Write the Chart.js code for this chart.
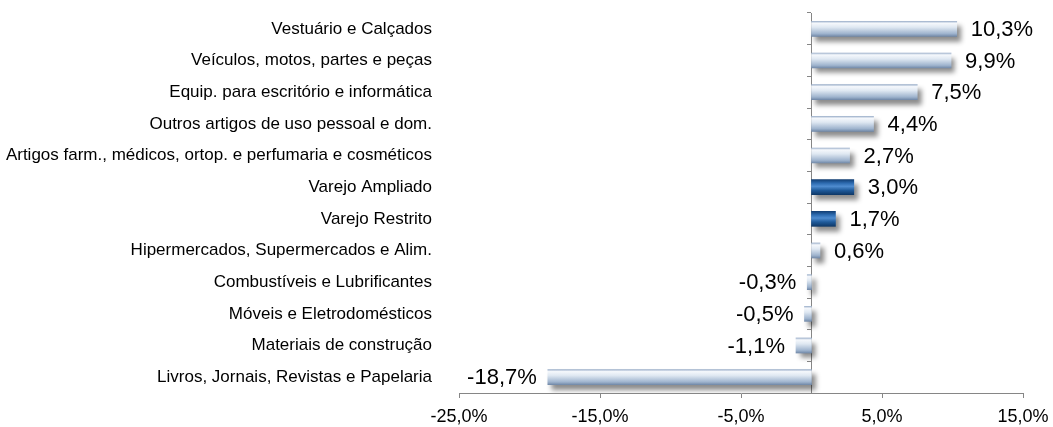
<!DOCTYPE html>
<html>
<head>
<meta charset="utf-8">
<script src="https://cdn.jsdelivr.net/npm/chart.js@4"></script>
<style>
  html, body { margin: 0; padding: 0; background: #fff; overflow: hidden; }
  #wrap { width: 1053px; height: 427px; }
</style>
</head>
<body>
<div id="wrap"><canvas id="chart-area"></canvas></div>
<script>
var categories = [
  'Vestuário e Calçados',
  'Veículos, motos, partes e peças',
  'Equip. para escritório e informática',
  'Outros artigos de uso pessoal e dom.',
  'Artigos farm., médicos, ortop. e perfumaria e cosméticos',
  'Varejo Ampliado',
  'Varejo Restrito',
  'Hipermercados, Supermercados e Alim.',
  'Combustíveis e Lubrificantes',
  'Móveis e Eletrodomésticos',
  'Materiais de construção',
  'Livros, Jornais, Revistas e Papelaria'
];
var values = [10.3, 9.9, 7.5, 4.4, 2.7, 3.0, 1.7, 0.6, -0.3, -0.5, -1.1, -18.7];
var highlighted = ['Varejo Ampliado', 'Varejo Restrito'];
var xTicks = [-25, -15, -5, 5, 15];

var FONT = "'Liberation Sans', Arial, sans-serif";

function pct(v) {
  return v.toFixed(1).replace('.', ',') + '%';
}

// vertical gradient per bar, built from the category scale position
function barFill(context) {
  var chart = context.chart;
  var dark = highlighted.indexOf(categories[context.dataIndex]) >= 0;
  var yScale = chart.scales.y;
  var yc = yScale ? yScale.getPixelForValue(context.dataIndex) : NaN;
  if (!isFinite(yc)) return dark ? '#1f5a9a' : '#b9c9de';
  var h = 8;
  var g = chart.ctx.createLinearGradient(0, yc - h, 0, yc + h);
  if (dark) {
    g.addColorStop(0, '#0f3a6e');
    g.addColorStop(0.25, '#2d6bb0');
    g.addColorStop(0.45, '#4f8ccf');
    g.addColorStop(0.7, '#1f5a9a');
    g.addColorStop(1, '#0d3563');
  } else {
    g.addColorStop(0, '#8ea4c2');
    g.addColorStop(0.15, '#f5f8fc');
    g.addColorStop(0.4, '#dfe8f2');
    g.addColorStop(0.8, '#9fb4ce');
    g.addColorStop(1, '#6b83a3');
  }
  return g;
}

var barDecor = {
  id: 'barDecor',
  beforeDatasetsDraw: function(chart) {
    var ctx = chart.ctx;
    ctx.save();
    ctx.shadowColor = 'rgba(0,0,0,0.45)';
    ctx.shadowBlur = 5;
    ctx.shadowOffsetX = 4;
    ctx.shadowOffsetY = 5;
  },
  afterDatasetsDraw: function(chart) {
    var ctx = chart.ctx;
    ctx.restore();
    ctx.save();
    ctx.font = '22px ' + FONT;
    ctx.fillStyle = '#000';
    ctx.textBaseline = 'middle';
    var meta = chart.getDatasetMeta(0);
    meta.data.forEach(function(bar, i) {
      var v = values[i];
      if (v >= 0) {
        ctx.textAlign = 'left';
        ctx.fillText(pct(v), bar.x + 14, bar.y + 1);
      } else {
        ctx.textAlign = 'right';
        ctx.fillText(pct(v), bar.x - 11, bar.y + 1);
      }
    });
    ctx.restore();
  }
};

var config = {
  type: 'bar',
  data: {
    labels: categories,
    datasets: [{
      data: values,
      backgroundColor: barFill,
      borderWidth: 0,
      barThickness: 15
    }]
  },
  options: {
    indexAxis: 'y',
    responsive: true,
    maintainAspectRatio: false,
    animation: false,
    layout: { padding: { top: 13, right: 30, bottom: 0, left: 0 } },
    plugins: {
      legend: { display: false },
      tooltip: { enabled: false }
    },
    scales: {
      x: {
        type: 'linear',
        min: -25,
        max: 15,
        afterBuildTicks: function(scale) {
          scale.ticks = xTicks.map(function(v) { return { value: v }; });
        },
        afterFit: function(scale) {
          scale.height = 34;
          scale.paddingLeft = 0;
          scale.paddingRight = 0;
        },
        ticks: {
          callback: function(v) { return pct(v); },
          font: { family: FONT, size: 18 },
          color: '#000',
          padding: 8,
          maxRotation: 0
        },
        grid: {
          drawOnChartArea: false,
          color: '#868686',
          tickLength: 5
        },
        border: { color: '#868686', width: 1 }
      },
      y: {
        type: 'category',
        offset: true,
        afterFit: function(scale) {
          scale.width = 459;
          scale.paddingTop = 0;
          scale.paddingBottom = 0;
        },
        ticks: {
          font: { family: FONT, size: 17 },
          color: '#000',
          padding: 19
        },
        grid: { display: false },
        border: { display: false }
      },
      y2: {
        type: 'category',
        position: { x: 0 },
        offset: true,
        afterFit: function(scale) {
          scale.paddingTop = 0;
          scale.paddingBottom = 0;
        },
        ticks: { display: false },
        grid: {
          offset: true,
          drawOnChartArea: false,
          color: '#868686',
          tickLength: 4
        },
        border: { color: '#868686', width: 1 }
      }
    }
  },
  plugins: [barDecor]
};

window.onload = function() {
  var ctx = document.getElementById('chart-area').getContext('2d');
  window.myBar = new Chart(ctx, config);
};
</script>
</body>
</html>
